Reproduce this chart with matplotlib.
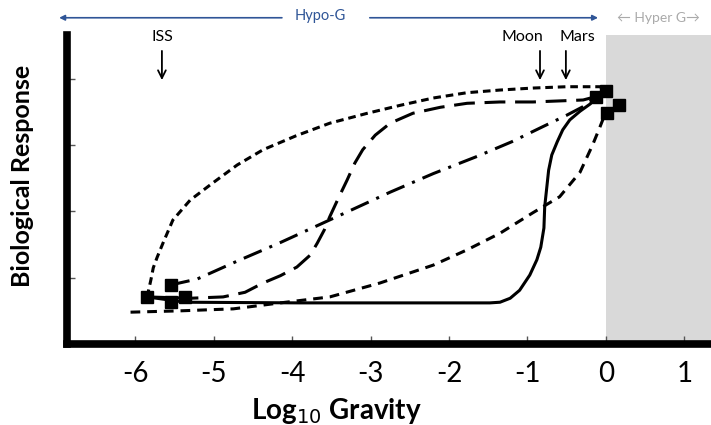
import matplotlib
matplotlib.use("Agg")
import matplotlib.pyplot as plt

plt.rcParams['font.family'] = ['Lato', 'DejaVu Sans']
plt.rcParams['lines.scale_dashes'] = False

# ---- data ----
x_ticks = [-6, -5, -4, -3, -2, -1, 0, 1]
x_tick_labels = ['-6', '-5', '-4', '-3', '-2', '-1', '0', '1']
y_ticks = [1, 2, 3, 4]

# short-dash top curve
top_x = [-5.85, -5.83, -5.80, -5.77, -5.72, -5.64, -5.52, -5.30, -5.01, -4.70,
         -4.37, -3.95, -3.52, -3.04, -2.62, -2.20, -1.77, -1.35, -0.93, -0.50,
         -0.08, 0.0]
top_y = [0.71, 0.81, 0.97, 1.15, 1.31, 1.54, 1.87, 2.17, 2.43, 2.70,
         2.93, 3.14, 3.33, 3.48, 3.60, 3.71, 3.79, 3.83, 3.86, 3.88,
         3.88, 3.83]

# long-dash sigmoid curve
sig_x = [-5.85, -5.30, -4.88, -4.60, -4.37, -4.15, -3.94, -3.77, -3.68, -3.59,
         -3.52, -3.41, -3.30, -3.20, -3.10, -2.94, -2.75, -2.46, -2.11, -1.77,
         -1.35, -0.93, -0.29, -0.13]
sig_y = [0.71, 0.69, 0.71, 0.78, 0.92, 1.03, 1.16, 1.34, 1.52, 1.72,
         1.92, 2.20, 2.47, 2.73, 2.93, 3.15, 3.33, 3.48, 3.57, 3.63,
         3.65, 3.65, 3.68, 3.73]

# dash-dot curve
dd_x = [-5.55, -5.21, -4.70, -4.15, -3.43, -2.75, -2.20, -1.64, -1.20, -0.80,
        -0.50, -0.29, -0.13]
dd_y = [0.89, 0.98, 1.25, 1.53, 1.92, 2.29, 2.57, 2.83, 3.05, 3.28,
        3.45, 3.58, 3.72]

# solid curve
sol_x = [-5.85, -5.36, -3.90, -1.48, -1.35, -1.22, -1.10, -0.97, -0.88, -0.83,
         -0.79, -0.78, -0.75, -0.73, -0.69, -0.62, -0.55, -0.46, -0.33, -0.20,
         -0.13]
sol_y = [0.71, 0.63, 0.62, 0.62, 0.63, 0.69, 0.81, 1.04, 1.27, 1.46,
         1.75, 2.07, 2.40, 2.62, 2.85, 3.05, 3.23, 3.38, 3.51, 3.62,
         3.71]

# dashed bottom curve
bot_x = [-6.06, -5.43, -4.75, -4.15, -3.52, -2.88, -2.20, -1.77, -1.35, -0.93,
         -0.59, -0.33, -0.17, -0.08, 0.0]
bot_y = [0.48, 0.50, 0.53, 0.62, 0.71, 0.92, 1.19, 1.42, 1.67, 1.98,
         2.22, 2.59, 3.00, 3.26, 3.50]

# square markers
sq_x = [-5.85, -5.55, -5.36, -5.54, 0.00, -0.13, 0.17, 0.01]
sq_y = [0.71, 0.89, 0.71, 0.64, 3.81, 3.72, 3.61, 3.49]

# annotations
sites = ['ISS', 'Moon', 'Mars']
site_x = [-5.66, -0.84, -0.51]
site_text_x = [-5.66, -1.07, -0.36]

W, H = 711, 425
fig = plt.figure(figsize=(W / 100, H / 100), dpi=100)
ax = fig.add_axes([67 / W, 1 - 344 / H, 1 - 67 / W, (344 - 35) / H])
ax.set_xlim(-6.87, 1.34)
ax.set_ylim(0, 4.66)

ax.axvspan(0, 1.34, color='#d9d9d9', zorder=0, lw=0)

lw = 2.2
ax.plot(top_x, top_y, color='black', lw=lw, dashes=(5.5, 3.5), zorder=3)
ax.plot(sig_x, sig_y, color='black', lw=lw, dashes=(15, 7), zorder=3)
ax.plot(dd_x, dd_y, color='black', lw=lw, dashes=(14, 6, 2.2, 6), zorder=3)
ax.plot(sol_x, sol_y, color='black', lw=lw, zorder=3)
ax.plot(bot_x, bot_y, color='black', lw=lw, dashes=(7, 5), zorder=3)
ax.plot(sq_x, sq_y, ls='none', marker='s', ms=8.5, color='black', zorder=4)

for s in ['top', 'right']:
    ax.spines[s].set_visible(False)
for s in ['left', 'bottom']:
    ax.spines[s].set_linewidth(5.5)
    ax.spines[s].set_capstyle('projecting')
    ax.spines[s].set_zorder(5)

ax.set_xticks(x_ticks)
ax.set_xticklabels(x_tick_labels, fontsize=20)
ax.set_yticks(y_ticks)
ax.set_yticklabels([])
ax.tick_params(axis='both', direction='in', length=6, width=1, color='#555555')
ax.tick_params(axis='x', pad=12)

ax.set_xlabel('Log$_{10}$ Gravity', fontsize=20, fontweight='bold')
ax.xaxis.set_label_coords((-3.43 + 6.87) / 8.21, -(411 - 344) / 309)
ax.xaxis.label.set_va('center')
ax.set_ylabel('Biological Response', fontsize=18, fontweight='bold')
ax.yaxis.set_label_coords((22 - 67) / 644, (344 - 176) / 309)
ax.yaxis.label.set_va('center')

# site labels and arrows
for name, xa, xt in zip(sites, site_x, site_text_x):
    ax.text(xt, 4.63, name, ha='center', va='center', fontsize=11.5, clip_on=False)
    ax.annotate('', xy=(xa, 3.98), xytext=(xa, 4.42), annotation_clip=False,
                arrowprops=dict(arrowstyle='->', lw=1.3, color='black',
                                shrinkA=0, shrinkB=0, mutation_scale=14))

# Hypo-G arrow (two segments with a gap around the text)
blue = '#2f5597'
ax.annotate('', xy=(-6.97, 4.92), xytext=(-4.13, 4.92), annotation_clip=False,
            arrowprops=dict(arrowstyle='-|>', lw=1.2, color=blue,
                            shrinkA=0, shrinkB=0, mutation_scale=8))
ax.annotate('', xy=(-0.10, 4.92), xytext=(-3.01, 4.92), annotation_clip=False,
            arrowprops=dict(arrowstyle='-|>', lw=1.2, color=blue,
                            shrinkA=0, shrinkB=0, mutation_scale=8))
ax.text(-3.64, 4.94, 'Hypo-G', ha='center', va='center', fontsize=10.5, color=blue,
        clip_on=False)
ax.text(0.67, 4.92, '\u2190 Hyper G\u2192', ha='center', va='center', fontsize=10,
        color='#aaaaaa', clip_on=False)

fig.savefig('out.png', dpi=100)
